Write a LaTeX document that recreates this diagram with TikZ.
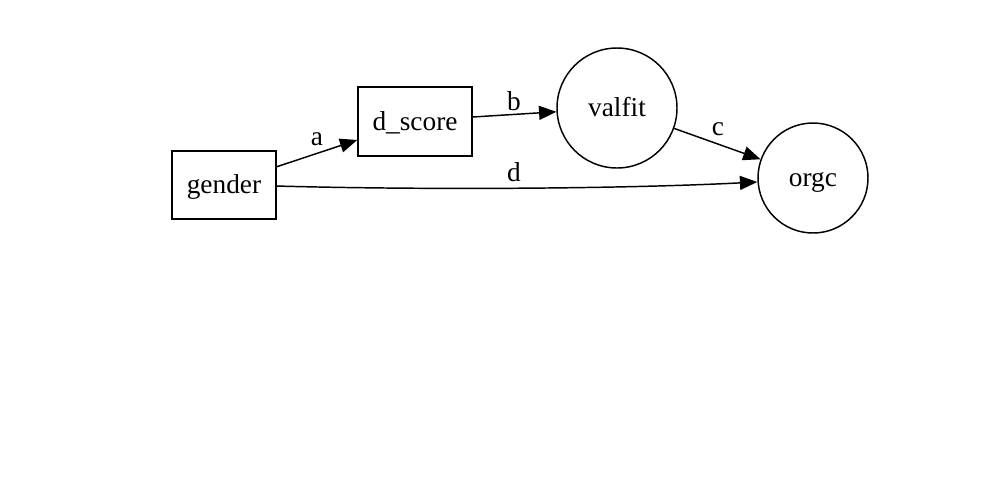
\documentclass[tikz,border=0pt]{standalone}
\usepackage{fontspec}
\setmainfont{Liberation Serif}
\usetikzlibrary{arrows.meta}
\begin{document}
\begin{tikzpicture}[x=0.75pt,y=-0.75pt,
  txt/.style={font=\fontsize{20.5}{24}\selectfont},
  box/.style={txt,draw,line width=1.1pt,rectangle,inner sep=0pt,text height=17pt,text depth=4pt},
  circ/.style={txt,draw,line width=1.1pt,circle,inner sep=0pt,text height=17pt,text depth=4pt},
  edge/.style={line width=1.1pt,-{Triangle[length=13pt,width=10.5pt]}},
  lab/.style={txt,inner sep=0pt}]
\useasboundingbox (0,0) rectangle (1000,480);
\node[box,minimum width=78pt,minimum height=51pt] (gender) at (224,185) {gender};
\node[box,minimum width=85.5pt,minimum height=52pt] (dscore) at (415,121.5) {d\_score};
\node[circ,minimum size=90pt] (valfit) at (617,108) {valfit};
\node[circ,minimum size=82.5pt] (orgc) at (813,178) {orgc};
\coordinate (gA) at (276,167);
\coordinate (gD) at (276,186);
\draw[edge] (gA) -- (dscore.west |- 0,140);
\draw[edge] (dscore.east |- 0,117) -- (valfit);
\draw[edge] (valfit) -- (orgc);
\draw[edge] (gD) .. controls (420,190) and (620,189) .. (orgc.west |- 0,182);
\node[lab] (la) at (317,139) {a};
\node[lab] (lb) at (514,101) {b};
\node[lab] (lc) at (718,129) {c};
\node[lab] (ld) at (514,172) {d};
\end{tikzpicture}
\end{document}
